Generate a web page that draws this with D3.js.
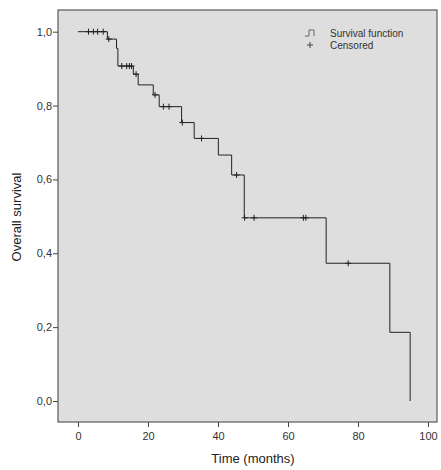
<!DOCTYPE html>
<html>
<head>
<meta charset="utf-8">
<script src="https://cdn.jsdelivr.net/npm/d3@7"></script>
<style>
  body { margin: 0; background: #fff; }
  svg { font-family: "Liberation Sans", Arial, sans-serif; }
</style>
</head>
<body>
<svg id="svg" width="441" height="470"></svg>
<script>
// step points of the survival curve: time where the level starts, and the level
var stepTimes = [0, 8.4, 11.0, 11.4, 15.8, 17.2, 21.5, 23.2, 29.6, 33.2, 40.1, 43.9, 47.5, 70.9, 89.1, 94.9];
var stepLevels = [1.0, 0.98, 0.955, 0.907, 0.885, 0.856, 0.829, 0.797, 0.754, 0.711, 0.666, 0.612, 0.496, 0.373, 0.186, 0.0];
// censored observations (time)
var censoredTimes = [3.0, 4.4, 5.6, 7.2, 8.8, 12.5, 13.9, 14.7, 15.3, 16.6, 22.0, 24.4, 26.0, 29.8, 35.3, 45.3, 47.6, 50.3, 64.4, 65.1, 77.2];
var xTicks = [0, 20, 40, 60, 80, 100];
var yTicks = [0, 0.2, 0.4, 0.6, 0.8, 1.0];

var svg = d3.select("#svg");

var box = { left: 58, top: 10, right: 437, bottom: 422 };

var x = d3.scaleLinear().domain([0, 100]).range([78, 428]);
var y = d3.scaleLinear().domain([0, 1]).range([401, 31.7]);

var fmt = function (d) { return d3.format(".1f")(d).replace(".", ","); };

svg.append("rect")
    .attr("x", box.left).attr("y", box.top)
    .attr("width", box.right - box.left).attr("height", box.bottom - box.top)
    .attr("fill", "#dedede")
    .attr("stroke", "#5a5a5a")
    .attr("stroke-width", 1.2);

// axes
var xAxis = svg.append("g")
    .attr("transform", "translate(0," + box.bottom + ")")
    .call(d3.axisBottom(x).tickValues(xTicks).tickSize(5).tickSizeOuter(0).tickFormat(d3.format("d")));
xAxis.select(".domain").remove();
xAxis.selectAll("line").attr("stroke", "#444");
xAxis.selectAll("text").attr("font-size", 11).attr("fill", "#333").attr("dy", "0.9em");

var yAxis = svg.append("g")
    .attr("transform", "translate(" + box.left + ",0)")
    .call(d3.axisLeft(y).tickValues(yTicks).tickSize(5).tickSizeOuter(0).tickFormat(fmt));
yAxis.select(".domain").remove();
yAxis.selectAll("line").attr("stroke", "#444");
yAxis.selectAll("text").attr("font-size", 11).attr("fill", "#333").attr("x", -6);

svg.append("text")
    .attr("x", 253).attr("y", 463)
    .attr("text-anchor", "middle")
    .attr("font-size", 13).attr("fill", "#222")
    .text("Time (months)");

svg.append("text")
    .attr("transform", "translate(21,217) rotate(-90)")
    .attr("text-anchor", "middle")
    .attr("font-size", 13).attr("fill", "#222")
    .text("Overall survival");

// survival curve
var pts = stepTimes.map(function (t, i) { return [t, stepLevels[i]]; });
var line = d3.line()
    .x(function (d) { return x(d[0]); })
    .y(function (d) { return y(d[1]); })
    .curve(d3.curveStepAfter);

svg.append("path")
    .datum(pts)
    .attr("d", line)
    .attr("fill", "none")
    .attr("stroke", "#222")
    .attr("stroke-width", 1);

function levelAt(t) {
    var lv = stepLevels[0];
    for (var i = 0; i < stepTimes.length; i++) {
        if (stepTimes[i] <= t) lv = stepLevels[i];
    }
    return lv;
}

var cens = svg.append("g")
    .selectAll("path")
    .data(censoredTimes)
    .enter().append("path")
    .attr("d", function (d) {
        var cx = x(d), cy = y(levelAt(d));
        return "M" + (cx - 3) + "," + cy + "H" + (cx + 3) + "M" + cx + "," + (cy - 3) + "V" + (cy + 3);
    })
    .attr("stroke", "#222")
    .attr("stroke-width", 1);

// legend
var lg = svg.append("g").attr("transform", "translate(305,33)");
lg.append("path")
    .attr("d", "M0,3 H4 V-3 H9 V3")
    .attr("fill", "none").attr("stroke", "#666").attr("stroke-width", 1);
lg.append("path")
    .attr("d", "M2,12 H8 M5,9 V15")
    .attr("stroke", "#444").attr("stroke-width", 1);
lg.append("text").attr("x", 25).attr("y", 3.5).attr("font-size", 10).attr("fill", "#333").text("Survival function");
lg.append("text").attr("x", 25).attr("y", 15.5).attr("font-size", 10).attr("fill", "#333").text("Censored");
</script>
</body>
</html>
